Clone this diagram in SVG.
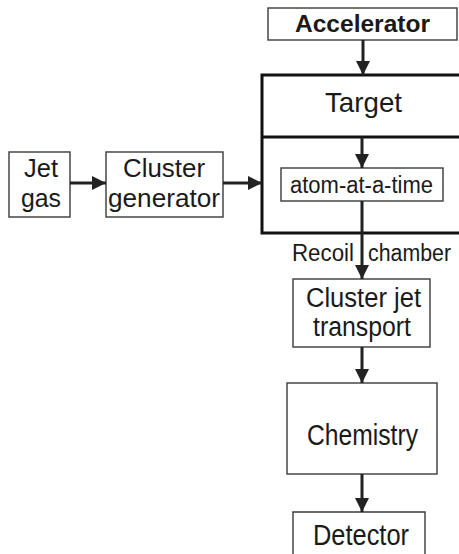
<svg xmlns="http://www.w3.org/2000/svg" width="459" height="554" viewBox="0 0 459 554">
<style>
.box{fill:#fff;stroke:#3a3a3a;stroke-width:1.4}
.thick{fill:none;stroke:#111;stroke-width:3}
.t{font-family:"Liberation Sans",Arial,sans-serif;fill:#1a1a1a;text-anchor:start}
.b{font-weight:bold}
.c{stroke:#222;stroke-width:3;fill:none;marker-end:url(#ah)}
</style>
<defs>
<marker id="ah" markerUnits="userSpaceOnUse" markerWidth="14" markerHeight="14" refX="14" refY="7" orient="auto">
<path d="M0,0 L14,7 L0,14 z" fill="#222"/>
</marker>
</defs>
<rect width="459" height="554" fill="#fff"/>
<g id="accelerator">
<rect class="box" x="268" y="8" width="189" height="32"/>
<text class="t b" x="295" y="32" font-size="24" textLength="135" lengthAdjust="spacingAndGlyphs">Accelerator</text>
</g>
<g id="target">
<path class="thick" d="M459,75 H262 V233 H459 M262,137 H459"/>
<text class="t" x="325" y="112" font-size="28" textLength="77" lengthAdjust="spacingAndGlyphs">Target</text>
</g>
<g id="jetgas">
<rect class="box" x="9" y="152" width="61" height="65"/>
<text class="t" x="24" y="177" font-size="25" textLength="34" lengthAdjust="spacingAndGlyphs">Jet</text>
<text class="t" x="21" y="207" font-size="25" textLength="40" lengthAdjust="spacingAndGlyphs">gas</text>
</g>
<g id="clustergen">
<rect class="box" x="106" y="152" width="117" height="65"/>
<text class="t" x="123" y="177" font-size="25" textLength="82" lengthAdjust="spacingAndGlyphs">Cluster</text>
<text class="t" x="108" y="207" font-size="25" textLength="112" lengthAdjust="spacingAndGlyphs">generator</text>
</g>
<g id="atom">
<rect class="box" x="281" y="168" width="162" height="33"/>
<text class="t" x="290" y="193" font-size="23" textLength="143" lengthAdjust="spacingAndGlyphs">atom-at-a-time</text>
</g>
<g id="recoil">
<text class="t" x="292" y="261" font-size="23" textLength="62" lengthAdjust="spacingAndGlyphs">Recoil</text>
<text class="t" x="368" y="261" font-size="23" textLength="83" lengthAdjust="spacingAndGlyphs">chamber</text>
</g>
<g id="clusterjet">
<rect class="box" x="293" y="279" width="137" height="68"/>
<text class="t" x="306" y="307" font-size="27" textLength="115" lengthAdjust="spacingAndGlyphs">Cluster jet</text>
<text class="t" x="313" y="336" font-size="27" textLength="98" lengthAdjust="spacingAndGlyphs">transport</text>
</g>
<g id="chemistry">
<rect class="box" x="287" y="383" width="150" height="91"/>
<text class="t" x="307" y="445" font-size="29" textLength="111" lengthAdjust="spacingAndGlyphs">Chemistry</text>
</g>
<g id="detector">
<path class="box" d="M293,556 V512 H425 V556"/>
<text class="t" x="313" y="545" font-size="30" textLength="96" lengthAdjust="spacingAndGlyphs">Detector</text>
</g>
<g id="connectors">
<line class="c" x1="363" y1="40" x2="363" y2="75"/>
<line class="c" x1="70" y1="183" x2="106" y2="183"/>
<line class="c" x1="223" y1="183" x2="262" y2="183"/>
<line class="c" x1="362" y1="137" x2="362" y2="168"/>
<line class="c" x1="362" y1="201" x2="362" y2="279"/>
<line class="c" x1="362" y1="347" x2="362" y2="383"/>
<line class="c" x1="362" y1="474" x2="362" y2="512"/>
</g>
</svg>
